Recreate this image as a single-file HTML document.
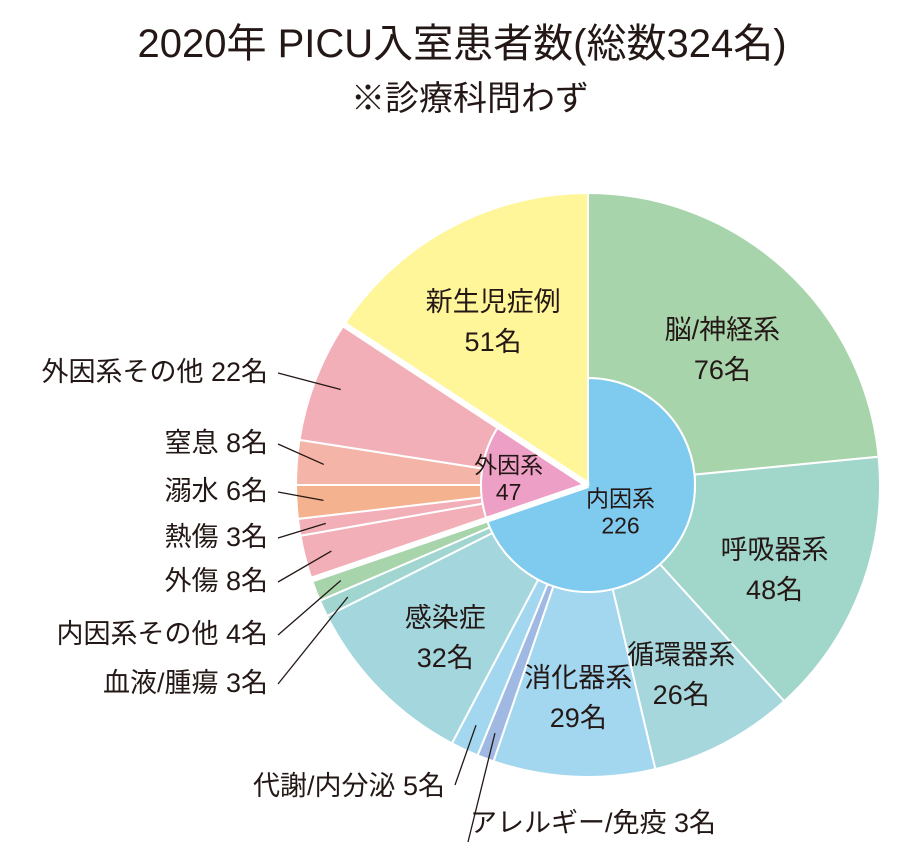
<!DOCTYPE html>
<html><head><meta charset="utf-8"><style>
body{margin:0;background:#fff}
svg text{font-family:"Liberation Sans","Noto Sans CJK JP",sans-serif;fill:#231815}
</style></head><body>
<svg width="900" height="850" viewBox="0 0 900 850">
<text x="462" y="57" text-anchor="middle" font-size="40">2020年 PICU入室患者数(総数324名)</text>
<text x="470" y="110" text-anchor="middle" font-size="34">※診療科問わず</text>
<g id="pie"></g>
</svg>
<script>
const outerLabels=["脳/神経系","呼吸器系","循環器系","消化器系","アレルギー/免疫","代謝/内分泌","感染症","血液/腫瘍","内因系その他","外傷","熱傷","溺水","窒息","外因系その他","新生児症例"];
const outerValues=[76,48,26,29,3,5,32,3,4,8,3,6,8,22,51];
const outerColors=["#a7d4ab","#a1d6cb","#a5d7dd","#a3d7ef","#9fb9e2","#a3d7ef","#a3d6dd","#a1d5d0","#a7d4ab","#f2afb8","#f2afb8","#f4b28f","#f4b4a8","#f2afb8","#fff599"];
const groupLabels=["内因系","外因系"];
const groupValues=[226,47];
const groupColors=["#7fcbf0","#ee9fc6"];
const cx=588,cy=485,R=292,r0=107;
const total=outerValues.reduce((a,b)=>a+b,0);
const ang=v=>v/total*2*Math.PI;
const pt=(a,r)=>[cx+r*Math.sin(a),cy-r*Math.cos(a)];
const g=document.getElementById('pie');
const NS="http://www.w3.org/2000/svg";
function arc(a0,a1,ri,ro){const p=(a,r)=>pt(a,r).join(',');const L=(a1-a0)>Math.PI?1:0;
 if(ri<=0)return `M${cx},${cy}L${p(a0,ro)}A${ro},${ro} 0 ${L} 1 ${p(a1,ro)}Z`;
 return `M${p(a0,ri)}L${p(a0,ro)}A${ro},${ro} 0 ${L} 1 ${p(a1,ro)}L${p(a1,ri)}A${ri},${ri} 0 ${L} 0 ${p(a0,ri)}Z`;}
function txt(x,y,s,size,anchor){const t=document.createElementNS(NS,'text');t.setAttribute('x',x);t.setAttribute('y',y);t.setAttribute('font-size',size);t.setAttribute('text-anchor',anchor||'middle');t.textContent=s;g.appendChild(t);return t;}
let a=0;const mids=[];
outerValues.forEach((v,i)=>{const a1=a+ang(v);const last=i===outerValues.length-1;
 const p=document.createElementNS(NS,'path');p.setAttribute('d',arc(a,a1,last?0:r0,R));p.setAttribute('fill',outerColors[i]);p.setAttribute('stroke','#fff');p.setAttribute('stroke-width','2');
 
 
 g.appendChild(p);mids.push([a,a1]);a=a1;});
let b=0;groupValues.forEach((v,i)=>{const b1=b+ang(v);
 const p=document.createElementNS(NS,'path');p.setAttribute('d',arc(b,b1,0,r0));p.setAttribute('fill',groupColors[i]);p.setAttribute('stroke','#fff');p.setAttribute('stroke-width','2');
 
 
 g.appendChild(p);
 const m=(b+b1)/2,rr=i===0?40:80;const q=pt(m,rr);
 const t1=txt(q[0],q[1]-2,groupLabels[i],23);
 const t2=txt(q[0],q[1]+25,String(v),23);
 b=b1;});
let c=0;[groupValues[0],groupValues[1],0].forEach(v=>{c+=ang(v);const p1=pt(c,0),p2=pt(c,R+2);
 const l=document.createElementNS(NS,'line');l.setAttribute('x1',p1[0]);l.setAttribute('y1',p1[1]);l.setAttribute('x2',p2[0]);l.setAttribute('y2',p2[1]);l.setAttribute('stroke','#fff');l.setAttribute('stroke-width','6');
 
 
 g.appendChild(l);});
const inside=[0,1,2,3,6,14];
const extPos={4:[470,832,'start'],5:[445,795,'end'],7:[268,692,'end'],8:[268,643,'end'],9:[268,590,'end'],10:[268,546,'end'],11:[268,500,'end'],12:[268,452,'end'],13:[268,381,'end']};
mids.forEach(([a0,a1],i)=>{const m=(a0+a1)/2;
 if(inside.includes(i)){const rr=200;const q=pt(m,rr);
  const t1=txt(q[0],q[1]+2,outerLabels[i],27);
  const t2=txt(q[0],q[1]+42,outerValues[i]+'名',27);
 }else{const [x,y,an]=extPos[i];const t=txt(x,y,outerLabels[i]+' '+outerValues[i]+'名',27,an);
  
  const s=pt(m,265);let ex,ey;
  if(i===4){ex=x-2;ey=y+10;}else if(i===5){ex=x+10;ey=y-10;}else{ex=x+10;ey=y-8;}
  const l=document.createElementNS(NS,'line');l.setAttribute('x1',s[0]);l.setAttribute('y1',s[1]);l.setAttribute('x2',ex);l.setAttribute('y2',ey);l.setAttribute('stroke','#231815');l.setAttribute('stroke-width','1.3');
  
  
  g.appendChild(l);}
});
</script>
</body></html>
